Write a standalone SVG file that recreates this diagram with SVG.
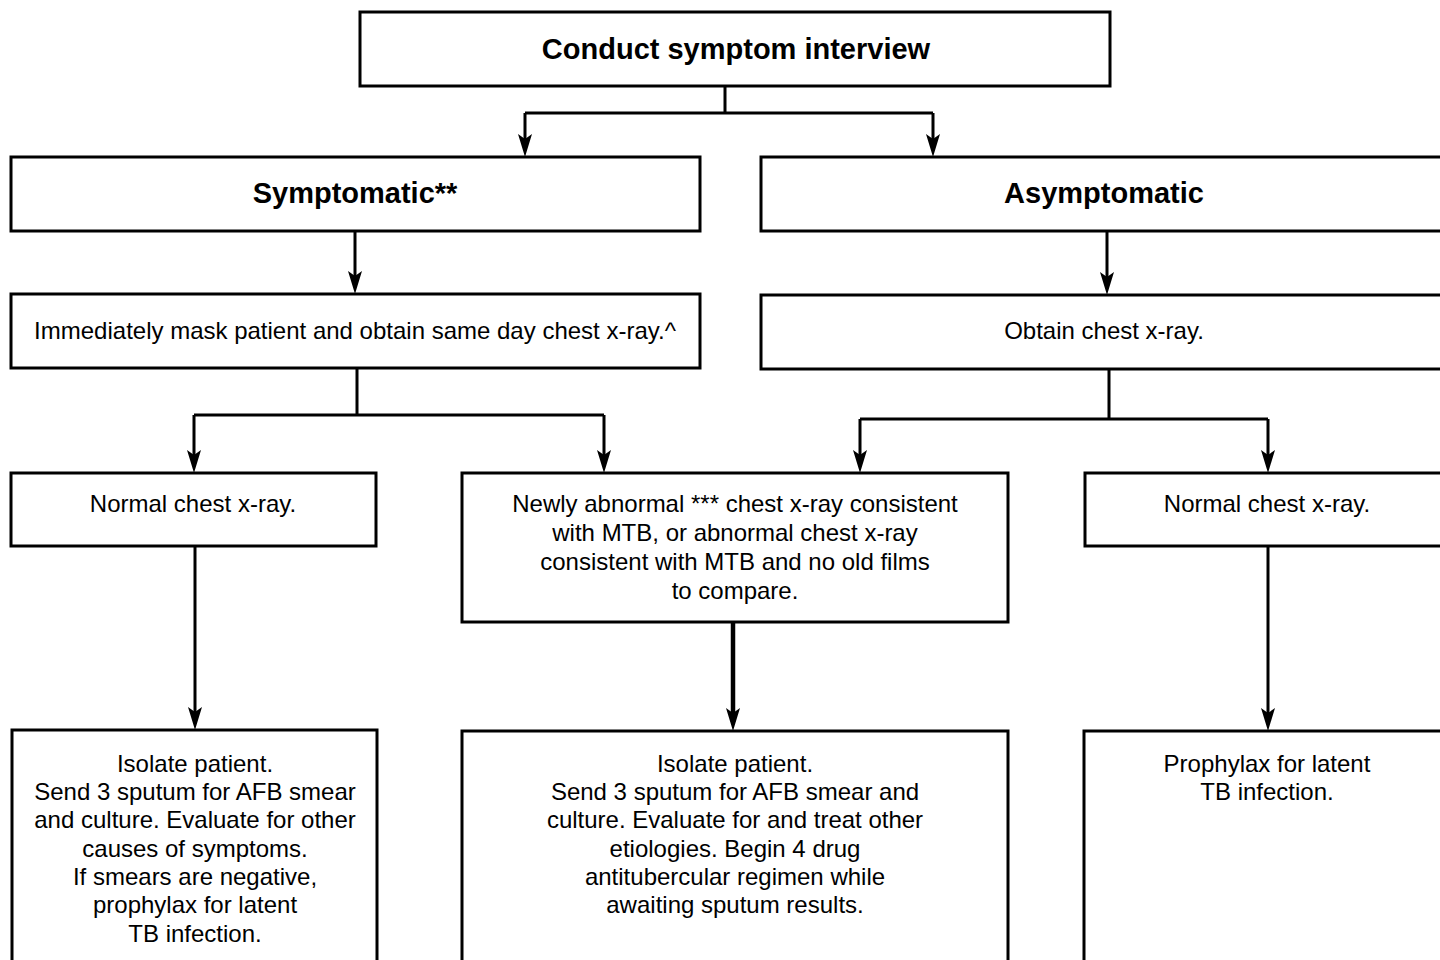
<svg xmlns="http://www.w3.org/2000/svg" xmlns:xlink="http://www.w3.org/1999/xlink" width="1440" height="960" viewBox="0 0 1440 960">
<style>
  .box { fill: #ffffff; stroke: #000000; stroke-width: 3; }
  .t { font-family: "Liberation Sans", Arial, sans-serif; font-size: 24px; fill: #000000; text-anchor: middle; }
  .b { font-family: "Liberation Sans", Arial, sans-serif; font-size: 29px; font-weight: bold; fill: #000000; text-anchor: middle; }
  .ln { fill: none; stroke: #000000; stroke-width: 3; }
  .ln2 { fill: none; stroke: #000000; stroke-width: 4.5; }
  .ah { fill: #000000; stroke: none; }
</style>
<defs>
  <path id="ah" class="ah" d="M-7,-23 L0,-18 L7,-23 L0,0 Z"/>
</defs>
<rect x="0" y="0" width="1440" height="960" fill="#ffffff"/>

<g id="connectors">
  <path class="ln" d="M725,86 V113 M525,113 H933 M525,113 V148 M933,113 V148"/>
  <use xlink:href="#ah" x="525" y="157"/>
  <use xlink:href="#ah" x="933" y="157"/>

  <path class="ln" d="M355,231 V286"/>
  <use xlink:href="#ah" x="355" y="294"/>
  <path class="ln" d="M1107,231 V287"/>
  <use xlink:href="#ah" x="1107" y="295"/>

  <path class="ln" d="M357,368 V415 M194,415 H604 M194,415 V465 M604,415 V465"/>
  <use xlink:href="#ah" x="194" y="473"/>
  <use xlink:href="#ah" x="604" y="473"/>

  <path class="ln" d="M1109,369 V419 M860,419 H1268 M860,419 V465 M1268,419 V465"/>
  <use xlink:href="#ah" x="860" y="473"/>
  <use xlink:href="#ah" x="1268" y="473"/>

  <path class="ln" d="M195,546 V722"/>
  <use xlink:href="#ah" x="195" y="730"/>
  <path class="ln2" d="M733,622 V722"/>
  <use xlink:href="#ah" x="733" y="731"/>
  <path class="ln" d="M1268,546 V722"/>
  <use xlink:href="#ah" x="1268" y="731"/>
</g>

<g id="n-interview">
  <rect class="box" x="360" y="12" width="750" height="74"/>
  <text class="b" x="736" y="59">Conduct symptom interview</text>
</g>

<g id="n-symptomatic">
  <rect class="box" x="11" y="157" width="689" height="74"/>
  <text class="b" x="355" y="203">Symptomatic**</text>
</g>

<g id="n-asymptomatic">
  <rect class="box" x="761" y="157" width="700" height="74"/>
  <text class="b" x="1104" y="203">Asymptomatic</text>
</g>

<g id="n-mask">
  <rect class="box" x="11" y="294" width="689" height="74"/>
  <text class="t" x="355" y="339">Immediately mask patient and obtain same day chest x-ray.^</text>
</g>

<g id="n-obtain">
  <rect class="box" x="761" y="295" width="700" height="74"/>
  <text class="t" x="1104" y="339">Obtain chest x-ray.</text>
</g>

<g id="n-normal-left">
  <rect class="box" x="11" y="473" width="365" height="73"/>
  <text class="t" x="193" y="512">Normal chest x-ray.</text>
</g>

<g id="n-abnormal">
  <rect class="box" x="462" y="473" width="546" height="149"/>
  <text class="t" x="735" y="512">Newly abnormal *** chest x-ray consistent</text>
  <text class="t" x="735" y="541">with MTB, or abnormal chest x-ray</text>
  <text class="t" x="735" y="570">consistent with MTB and no old films</text>
  <text class="t" x="735" y="599">to compare.</text>
</g>

<g id="n-normal-right">
  <rect class="box" x="1085" y="473" width="376" height="73"/>
  <text class="t" x="1267" y="512">Normal chest x-ray.</text>
</g>

<g id="n-isolate-left">
  <rect class="box" x="12" y="730" width="365" height="260"/>
  <text class="t" x="195" y="772">Isolate patient.</text>
  <text class="t" x="195" y="800">Send 3 sputum for AFB smear</text>
  <text class="t" x="195" y="828">and culture. Evaluate for other</text>
  <text class="t" x="195" y="857">causes of symptoms.</text>
  <text class="t" x="195" y="885">If smears are negative,</text>
  <text class="t" x="195" y="913">prophylax for latent</text>
  <text class="t" x="195" y="942">TB infection.</text>
</g>

<g id="n-isolate-mid">
  <rect class="box" x="462" y="731" width="546" height="260"/>
  <text class="t" x="735" y="772">Isolate patient.</text>
  <text class="t" x="735" y="800">Send 3 sputum for AFB smear and</text>
  <text class="t" x="735" y="828">culture. Evaluate for and treat other</text>
  <text class="t" x="735" y="857">etiologies. Begin 4 drug</text>
  <text class="t" x="735" y="885">antitubercular regimen while</text>
  <text class="t" x="735" y="913">awaiting sputum results.</text>
</g>

<g id="n-prophylax">
  <rect class="box" x="1084" y="731" width="377" height="260"/>
  <text class="t" x="1267" y="772">Prophylax for latent</text>
  <text class="t" x="1267" y="800">TB infection.</text>
</g>
</svg>
